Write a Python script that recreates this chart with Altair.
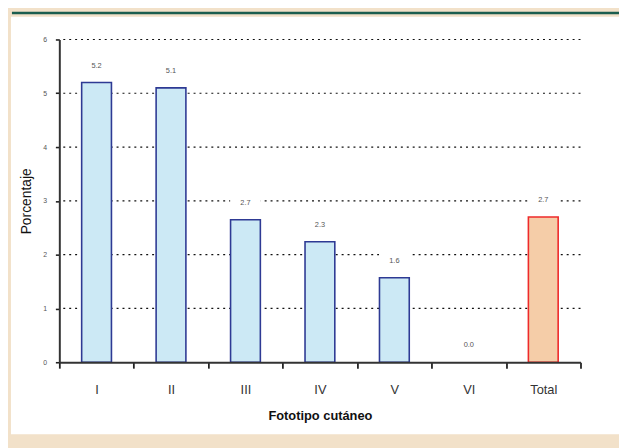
import altair as alt
import pandas as pd

categories = ["I", "II", "III", "IV", "V", "VI", "Total"]
values = [5.2, 5.1, 2.65, 2.24, 1.57, 0.0, 2.7]
value_labels = ["5.2", "5.1", "2.7", "2.3", "1.6", "0.0", "2.7"]
groups = ["fototipo"] * 6 + ["total"]
y_ticks = [0, 1, 2, 3, 4, 5, 6]
grid_values = [1, 2, 3, 4, 5, 6]

df = pd.DataFrame({"cat": categories, "val": values, "lab": value_labels, "grp": groups})
grid_df = pd.DataFrame({"val": grid_values})

FONT = "Liberation Sans"
W, H = 528, 327

x_axis = alt.Axis(
    title="Fototipo cutáneo",
    labelAngle=0,
    labelFont=FONT,
    labelFontSize=13,
    labelColor="#333333",
    labelPadding=16,
    ticks=True,
    tickBand="extent",
    tickExtra=True,
    tickSize=6,
    tickColor="#222222",
    tickWidth=1.8,
    domainColor="#333333",
    domainWidth=2,
    titleFont=FONT,
    titleFontSize=13,
    titleFontWeight="bold",
    titleColor="#111111",
    titlePadding=13,
    zindex=1,
)
x_scale = alt.Scale(paddingInner=0, paddingOuter=0)
y_axis = alt.Axis(
    title="Porcentaje",
    values=y_ticks,
    grid=False,
    ticks=True,
    labelFont=FONT,
    labelFontSize=7,
    labelColor="#555555",
    labelPadding=9,
    tickSize=4,
    tickColor="#222222",
    tickWidth=1.6,
    domainColor="#333333",
    domainWidth=2,
    titleFont=FONT,
    titleFontSize=14,
    titleFontWeight="normal",
    titleColor="#111111",
    titlePadding=9,
    zindex=1,
)
y_scale = alt.Scale(domain=[0, 6], nice=False)


def xe():
    return alt.X("cat:N", sort=categories, scale=x_scale, axis=x_axis)


def ye():
    return alt.Y("val:Q", scale=y_scale, axis=y_axis)


panel = alt.Chart(pd.DataFrame({"a": [0]})).mark_rect(color="white").encode(
    x=alt.value(-49), x2=alt.value(W + 39), y=alt.value(-23), y2=alt.value(400)
)
green = alt.Chart(pd.DataFrame({"a": [0]})).mark_rect(color="#1B5E4F").encode(
    x=alt.value(-48), x2=alt.value(W + 39), y=alt.value(-28), y2=alt.value(-25.6)
)

grid = alt.Chart(grid_df).mark_rule(
    color="#111111", strokeDash=[2, 4], strokeWidth=1.2
).encode(y=ye())

bars = alt.Chart(df).mark_bar(strokeWidth=1.6, width=alt.RelativeBandSize(band=0.4)).encode(
    x=xe(),
    y=ye(),
    fill=alt.Fill("grp:N", scale=alt.Scale(domain=["fototipo", "total"], range=["#CCE9F5", "#F5CDA8"]), legend=None),
    stroke=alt.Stroke("grp:N", scale=alt.Scale(domain=["fototipo", "total"], range=["#2E3A94", "#EE2A2A"]), legend=None),
    strokeOpacity=alt.condition("datum.val > 0", alt.value(1), alt.value(0)),
)

label_bg = alt.Chart(df).mark_point(
    shape="M-1.94,-1H1.94V1H-1.94Z", size=256, filled=True, fill="white", opacity=1, strokeWidth=0, yOffset=-17
).encode(x=xe(), y=ye())

labels = alt.Chart(df).mark_text(
    font=FONT, fontSize=7.5, color="#555555", dy=-17, baseline="middle"
).encode(x=xe(), y=ye(), text="lab:N")

chart = alt.layer(panel, green, grid, bars, label_bg, labels).properties(
    width=W,
    height=H,
    autosize=alt.AutoSizeParams(type="none"),
    padding={"left": 52, "top": 29, "right": 39, "bottom": 84},
    background="#F2E1C9",
).configure_view(stroke=None)

chart.save("out.html", embed_options={"renderer": "svg", "actions": False})
